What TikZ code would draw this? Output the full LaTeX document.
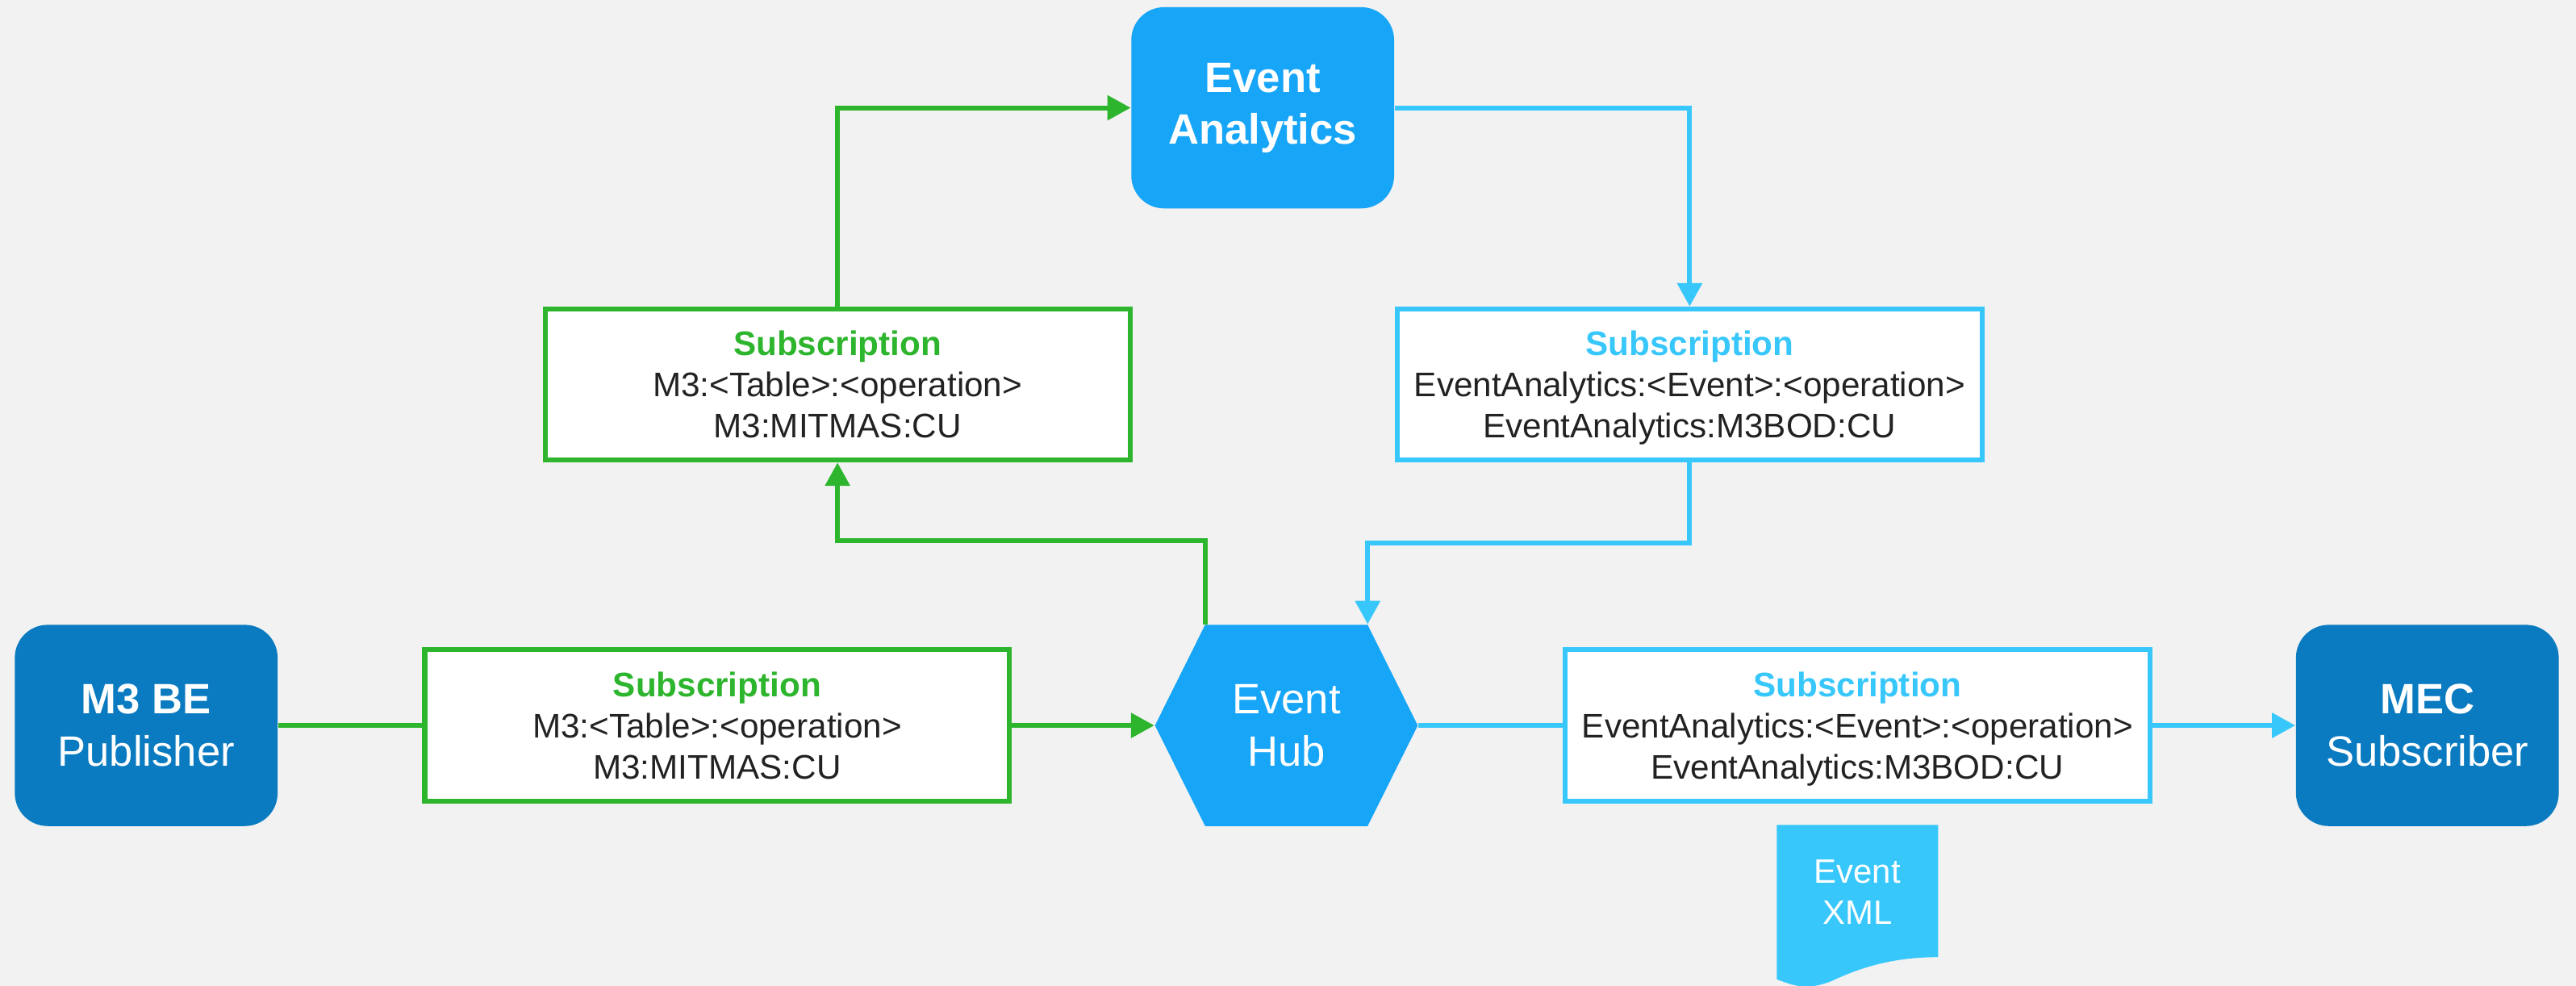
\documentclass[tikz,border=0pt]{standalone}
\usepackage{fontspec}
\setmainfont{Liberation Sans}
\usetikzlibrary{arrows.meta,shapes.symbols}
\definecolor{fondo}{HTML}{F2F2F2}
\definecolor{azuloscuro}{HTML}{0A7BC0}
\definecolor{azul}{HTML}{17A5F7}
\definecolor{celeste}{HTML}{38C7FB}
\definecolor{verde}{HTML}{2EB52E}
\definecolor{texto}{HTML}{222222}
\tikzset{
  caja/.style={rounded corners=0.4cm, minimum width=3.2cm, minimum height=2.45cm,
    align=center, text=white, font=\fontsize{14.7}{18}\selectfont},
  subs/.style={draw=#1, line width=1.7pt, fill=white, minimum width=7.12cm,
    minimum height=1.84cm, align=center, text depth=0pt, text=texto,
    font=\fontsize{11.8}{14.3}\selectfont},
  linea/.style={line width=1.7pt, draw=#1},
  flecha/.style={linea=#1, -{Triangle[length=0.285cm,width=0.295cm]}},
}
\begin{document}
\begin{tikzpicture}[x=0.02cm,y=-0.02cm]
\fill[fondo] (0,0) rectangle (1568,600); % fondo
\useasboundingbox (0,0) rectangle (1568,600);
% cajas
\node[caja, fill=azuloscuro] (pub) at (89,441.5) {\bfseries M3 BE\\Publisher};
\node[caja, fill=azuloscuro] (mec) at (1477.5,441.5) {\bfseries MEC\\Subscriber};
\node[caja, fill=azul] (ea) at (768.6,65.6) {\bfseries Event\\\bfseries Analytics};
\node[shape=signal, signal to=west and east, signal pointer angle=127, fill=azul,
  minimum width=3.2cm, minimum height=2.45cm, inner sep=0pt, align=center,
  text=white, font=\fontsize{14.7}{18}\selectfont] (hub) at (783,441.5) {Event\\Hub};
% suscripciones
\node[subs=verde] (subm3) at (436.5,441.5)
  {{\bfseries\color{verde}Subscription}\\M3:<Table>:<operation>\\M3:MITMAS:CU};
\node[subs=verde] (subm3b) at (509.8,234)
  {{\bfseries\color{verde}Subscription}\\M3:<Table>:<operation>\\M3:MITMAS:CU};
\node[subs=celeste] (subea) at (1130.6,441.5)
  {{\bfseries\color{celeste}Subscription}\\EventAnalytics:<Event>:<operation>\\EventAnalytics:M3BOD:CU};
\node[subs=celeste] (subeab) at (1028.5,234)
  {{\bfseries\color{celeste}Subscription}\\EventAnalytics:<Event>:<operation>\\EventAnalytics:M3BOD:CU};
% documento xml
\fill[celeste] (1081.5,502) -- (1179.7,502) -- (1179.7,582.5)
  .. controls (1150,582.5) and (1130,590) .. (1115,597)
  .. controls (1100,603) and (1092,600) .. (1081.5,596) -- cycle;
\node[text=white, align=center, font=\fontsize{11.7}{14.2}\selectfont] (xml) at (1130.6,543) {Event\\XML};
% conexiones
\draw[linea=verde] (pub.east) -- (subm3.west);
\draw[flecha=verde] (subm3.east) -- (hub.west);
\draw[linea=celeste] (hub.east) -- (subea.west);
\draw[flecha=celeste] (subea.east) -- (mec.west);
\draw[flecha=verde] ([xshift=-0.99cm]hub.north) -- ++(0,-51) -| (subm3b.south);
\draw[flecha=verde] (subm3b.north) |- (ea.west);
\draw[flecha=celeste] (ea.east) -| (subeab.north);
\draw[flecha=celeste] (subeab.south) -- ++(0,49) -| ([xshift=0.99cm]hub.north);
\end{tikzpicture}
\end{document}
